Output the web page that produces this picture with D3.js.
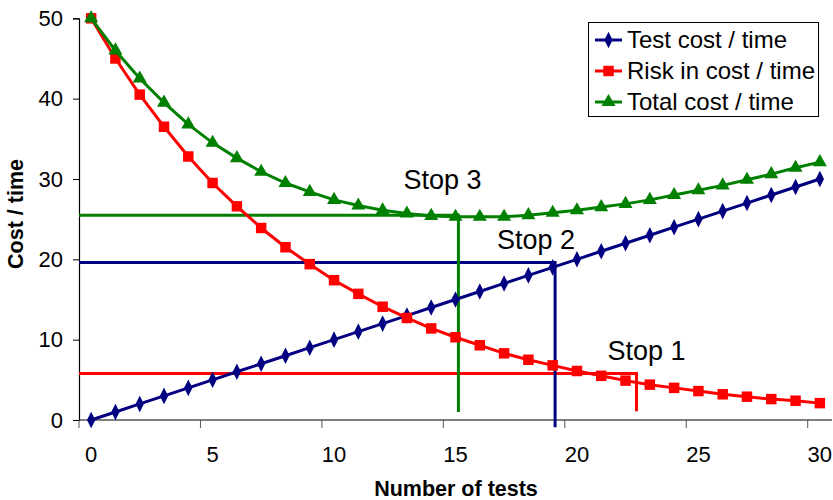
<!DOCTYPE html>
<html>
<head>
<meta charset="utf-8">
<script src="https://cdn.jsdelivr.net/npm/d3@7"></script>
<style>
  html, body { margin: 0; padding: 0; background: #fff; }
  svg { display: block; font-family: "Liberation Sans", Arial, Helvetica, sans-serif; }
</style>
</head>
<body>
<svg id="chart" width="833" height="500"></svg>
<script>
// Number of tests (categories)
const tests = d3.range(0, 31);
// Test cost / time
const testCost = [0, 1, 2, 3, 4, 5, 6, 7, 8, 9, 10, 11, 12, 13, 14, 15, 16, 17, 18, 19, 20, 21, 22, 23, 24, 25, 26, 27, 28, 29, 30];
// Risk in cost / time
const riskCost = [50, 45, 40.5, 36.5, 32.8, 29.5, 26.6, 23.9, 21.5, 19.4, 17.4, 15.7, 14.1, 12.7, 11.4, 10.3,
                  9.3, 8.3, 7.5, 6.8, 6.1, 5.5, 4.9, 4.4, 4.0, 3.6, 3.2, 2.9, 2.6, 2.4, 2.1];
// Total cost / time
const totalCost = [50, 46, 42.5, 39.5, 36.8, 34.5, 32.6, 30.9, 29.5, 28.4, 27.4, 26.7, 26.1, 25.7, 25.4, 25.3,
                   25.3, 25.3, 25.5, 25.8, 26.1, 26.5, 26.9, 27.4, 28.0, 28.6, 29.2, 29.9, 30.6, 31.4, 32.1];
const seriesNames = ["Test cost / time", "Risk in cost / time", "Total cost / time"];
const xTickValues = [0, 5, 10, 15, 20, 25, 30];
const yTickValues = [0, 10, 20, 30, 40, 50];

// Stop annotations: cost level, number of tests where it stops, and where the drop ends
const stopNames = ["Stop 1", "Stop 2", "Stop 3"];
const stopLevels = [5.8, 19.6, 25.5];
const stopAt = [22.45, 19.1, 15.12];
const stopFloor = [1.1, -0.9, 1.0];

const colors = ["#000080", "#ff0000", "#008000"];
// Stop 1 follows the risk curve, Stop 2 the test cost, Stop 3 the total
const stopColors = [colors[1], colors[0], colors[2]];
const svg = d3.select("#chart");

const x = d3.scaleLinear().domain([-0.5, 30.5]).range([79, 832]);
const y = d3.scaleLinear().domain([0, 50]).range([420, 18.3]);

// Axes
const yAxis = d3.axisLeft(y).tickValues(yTickValues).tickSize(6).tickPadding(10);
const gy = svg.append("g").attr("transform", `translate(${x(-0.5)},0)`).call(yAxis);
gy.select(".domain").attr("stroke", "#000").attr("stroke-width", 1.2);
gy.selectAll(".tick line").attr("stroke", "#000");
gy.selectAll(".tick text").attr("font-size", 22).attr("fill", "#000")
  .attr("font-family", "Liberation Sans, Arial, sans-serif");

const gx = svg.append("g").attr("transform", `translate(0,${y(0)})`);
gx.append("line").attr("x1", x(-0.5)).attr("x2", x(30.5)).attr("y1", 0).attr("y2", 0)
  .attr("stroke", "#000").attr("stroke-width", 1.2);
gx.selectAll("line.tick").data(xTickValues).join("line").attr("class", "tick")
  .attr("x1", d => x(d - 0.5)).attr("x2", d => x(d - 0.5)).attr("y1", 0).attr("y2", 8)
  .attr("stroke", "#555").attr("stroke-width", 1);
gx.selectAll("text").data(xTickValues).join("text")
  .attr("x", d => x(d)).attr("y", 42).attr("text-anchor", "middle")
  .attr("font-size", 22).attr("fill", "#000").text(d => d);

// Axis titles
svg.append("text").attr("x", 456).attr("y", 496).attr("text-anchor", "middle")
  .attr("font-size", 21.5).attr("font-weight", "bold").text("Number of tests");
svg.append("text").attr("transform", "translate(23,214) rotate(-90)").attr("text-anchor", "middle")
  .attr("font-size", 21.5).attr("font-weight", "bold").text("Cost / time");

// Stop lines
const stopG = svg.append("g");
stopNames.forEach((n, i) => {
  stopG.append("path")
    .attr("d", `M${x(-0.5)},${y(stopLevels[i])}H${x(stopAt[i])}V${y(stopFloor[i])}`)
    .attr("fill", "none").attr("stroke", stopColors[i]).attr("stroke-width", 3);
});

// Series
const seriesData = [testCost, riskCost, totalCost];
const line = d3.line().x((d, i) => x(tests[i])).y(d => y(d));
const symbols = [d3.symbolDiamond, d3.symbolSquare, d3.symbolTriangle];
const symSizes = [60, 110, 85];

seriesData.forEach((vals, s) => {
  const g = svg.append("g");
  g.append("path").datum(vals).attr("d", line)
    .attr("fill", "none").attr("stroke", colors[s]).attr("stroke-width", 3);
  g.selectAll("path.m").data(vals).join("path").attr("class", "m")
    .attr("transform", (d, i) => `translate(${x(tests[i])},${y(d)})` + (s === 0 ? " scale(1,1.15)" : ""))
    .attr("d", d3.symbol().type(symbols[s]).size(symSizes[s]))
    .attr("fill", colors[s]);
});

// Stop labels
const labelOffsets = [[-29, -13], [-58, -14], [-55, -26]];
stopNames.forEach((n, i) => {
  svg.append("text")
    .attr("x", x(stopAt[i]) + labelOffsets[i][0])
    .attr("y", y(stopLevels[i]) + labelOffsets[i][1])
    .attr("font-size", 27).attr("fill", "#000").text(n);
});

// Legend
const lg = svg.append("g");
lg.append("rect").attr("x", 588.5).attr("y", 22.5).attr("width", 230).attr("height", 94)
  .attr("fill", "#fff").attr("stroke", "#000").attr("stroke-width", 1);
seriesNames.forEach((n, i) => {
  const cy = 40 + i * 31;
  lg.append("line").attr("x1", 595).attr("x2", 622).attr("y1", cy).attr("y2", cy)
    .attr("stroke", colors[i]).attr("stroke-width", 3);
  lg.append("path").attr("transform", `translate(608.5,${cy})` + (i === 0 ? " scale(1,1.15)" : ""))
    .attr("d", d3.symbol().type(symbols[i]).size(symSizes[i])).attr("fill", colors[i]);
  lg.append("text").attr("x", 627).attr("y", cy + 8).attr("font-size", 24).attr("fill", "#000").text(n);
});
</script>
</body>
</html>
